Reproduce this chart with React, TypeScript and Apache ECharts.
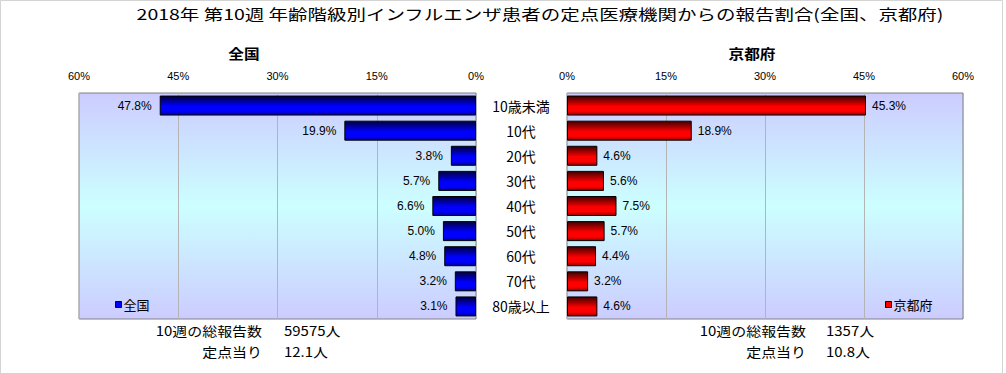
import React, { useEffect, useRef } from "react";
import * as echarts from "echarts";

const categories = ["10歳未満", "10代", "20代", "30代", "40代", "50代", "60代", "70代", "80歳以上"];
const nationalValues = [47.8, 19.9, 3.8, 5.7, 6.6, 5.0, 4.8, 3.2, 3.1];
const kyotoValues = [45.3, 18.9, 4.6, 5.6, 7.5, 5.7, 4.4, 3.2, 4.6];
const axisMin = 0;
const axisMax = 60;
const axisInterval = 15;

const titleText = "2018年 第10週 年齢階級別インフルエンザ患者の定点医療機関からの報告割合(全国、京都府)";
const panelTitles = ["全国", "京都府"];
const seriesNames = ["全国", "京都府"];
const footLabels = ["10週の総報告数", "定点当り"];
const nationalFoot = ["59575人", "12.1人"];
const kyotoFoot = ["1357人", "10.8人"];

const JP = "'Noto Sans CJK JP', 'Noto Sans', sans-serif";
const NUM = "'Liberation Sans', Arial, sans-serif";

function bg() {
  return new echarts.graphic.LinearGradient(0, 0, 0, 1, [
    { offset: 0, color: "#ccccff" },
    { offset: 0.5, color: "#ccffff" },
    { offset: 1, color: "#ccccff" },
  ]);
}

function barGrad(dark: string, bright: string, mid: string) {
  return new echarts.graphic.LinearGradient(0, 0, 0, 1, [
    { offset: 0, color: dark },
    { offset: 0.55, color: bright },
    { offset: 0.8, color: bright },
    { offset: 1, color: mid },
  ]);
}

export default function App() {
  const ref = useRef<HTMLDivElement>(null);
  useEffect(() => {
    if (!ref.current) return;
    const chart = echarts.init(ref.current, undefined, { renderer: "svg" });
    const fmt = (p: any) => Number(p.value).toFixed(1) + "%";
    const axisLabelStyle = { color: "#000", fontSize: 11, fontFamily: NUM, margin: 12, formatter: "{value}%" };
    const splitLine = { show: true, lineStyle: { color: "#b4b4b4", width: 1 } };

    const foot: any[] = [];
    const footCols = [
      { lx: 262, vx: 284, vals: nationalFoot },
      { lx: 806, vx: 826, vals: kyotoFoot },
    ];
    const footY = [330, 351];
    footCols.forEach((c) => {
      footLabels.forEach((t, i) => {
        foot.push({
          type: "text", x: c.lx, y: footY[i], scaleX: 1.15,
          style: { text: t, fill: "#000", font: `13px ${JP}`, textAlign: "right", textVerticalAlign: "middle" },
        });
        foot.push({
          type: "text", x: c.vx, y: footY[i], scaleX: 1.15,
          style: { text: c.vals[i], fill: "#000", font: `13px ${JP}`, textAlign: "left", textVerticalAlign: "middle" },
        });
      });
    });

    chart.setOption({
      animation: false,
      backgroundColor: "#fff",
      graphic: [
        {
          type: "rect", shape: { x: 0.5, y: 0.5, width: 1002, height: 380 },
          style: { fill: "none", stroke: "#d4d4d4", lineWidth: 1 }, silent: true,
        },
        {
          type: "text", x: 540, y: 14, scaleX: 1.3,
          style: { text: titleText, fill: "#000", font: `15px ${JP}`, textAlign: "center", textVerticalAlign: "middle" },
        },
        {
          type: "text", x: 244, y: 53, scaleX: 1.12,
          style: { text: panelTitles[0], fill: "#000", font: `bold 14px ${JP}`, textAlign: "center", textVerticalAlign: "middle" },
        },
        {
          type: "text", x: 752, y: 53, scaleX: 1.12,
          style: { text: panelTitles[1], fill: "#000", font: `bold 14px ${JP}`, textAlign: "center", textVerticalAlign: "middle" },
        },
        ...foot,
      ],
      legend: [
        {
          left: 115, top: 298, padding: 0, itemWidth: 6, itemHeight: 6, itemGap: 2, icon: "rect",
          textStyle: { color: "#000", fontSize: 13, fontFamily: JP, padding: [0, 0, 0, -3] },
          data: [{ name: seriesNames[0], itemStyle: { color: "#0000ff", borderColor: "#000", borderWidth: 1 } }],
        },
        {
          left: 885, top: 298, padding: 0, itemWidth: 6, itemHeight: 6, itemGap: 2, icon: "rect",
          textStyle: { color: "#000", fontSize: 13, fontFamily: JP, padding: [0, 0, 0, -3] },
          data: [{ name: seriesNames[1], itemStyle: { color: "#ff0000", borderColor: "#000", borderWidth: 1 } }],
        },
      ],
      grid: [
        { left: 79, top: 93, width: 397, height: 226, show: true, backgroundColor: bg(), borderColor: "#808080", borderWidth: 1, containLabel: false },
        { left: 567, top: 93, width: 396, height: 226, show: true, backgroundColor: bg(), borderColor: "#808080", borderWidth: 1, containLabel: false },
      ],
      xAxis: [
        {
          gridIndex: 0, type: "value", position: "top", inverse: true, min: axisMin, max: axisMax, interval: axisInterval,
          axisLine: { show: false }, axisTick: { show: false }, axisLabel: axisLabelStyle, splitLine,
        },
        {
          gridIndex: 1, type: "value", position: "top", min: axisMin, max: axisMax, interval: axisInterval,
          axisLine: { show: false }, axisTick: { show: false }, axisLabel: axisLabelStyle, splitLine,
        },
      ],
      yAxis: [
        {
          gridIndex: 0, type: "category", data: categories, inverse: true, position: "right",
          axisLine: { show: false }, axisTick: { show: false },
          axisLabel: { color: "#000", fontSize: 14, fontFamily: JP, margin: 45, align: "center", padding: [7, 0, 0, 0] },
        },
        {
          gridIndex: 1, type: "category", data: categories, inverse: true,
          axisLine: { show: false }, axisTick: { show: false }, axisLabel: { show: false },
        },
      ],
      series: [
        {
          name: seriesNames[0], type: "bar", xAxisIndex: 0, yAxisIndex: 0, data: nationalValues, barWidth: 20,
          itemStyle: { color: barGrad("#000040", "#0000ff", "#000090"), borderColor: "#000", borderWidth: 1 },
          label: { show: true, position: "left", distance: 8, formatter: fmt, color: "#000", fontSize: 12, fontFamily: NUM },
        },
        {
          name: seriesNames[1], type: "bar", xAxisIndex: 1, yAxisIndex: 1, data: kyotoValues, barWidth: 20,
          itemStyle: { color: barGrad("#400000", "#ff0000", "#900000"), borderColor: "#000", borderWidth: 1 },
          label: { show: true, position: "right", distance: 6, formatter: fmt, color: "#000", fontSize: 12, fontFamily: NUM },
        },
      ],
    });
    return () => chart.dispose();
  }, []);
  return <div ref={ref} style={{ position: "fixed", left: 0, top: 0, width: 1006, height: 373 }} />;
}
